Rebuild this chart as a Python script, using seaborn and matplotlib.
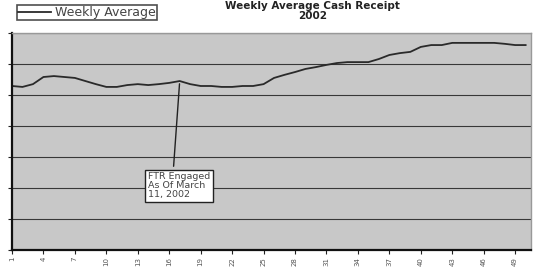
import numpy as np
import pandas as pd
import matplotlib
matplotlib.use('Agg')
import matplotlib.pyplot as plt
import seaborn as sns

# Weekly average cash receipts, 2002
weeks = list(range(1, 51))
receipts = [52900, 52600, 53500, 55800, 56100, 55800, 55500, 54500, 53500, 52600,
            52600, 53200, 53500, 53200, 53500, 53900, 54500, 53500, 52900, 52900,
            52600, 52600, 52900, 52900, 53500, 55500, 56500, 57400, 58400, 59000,
            59700, 60300, 60600, 60600, 60600, 61600, 62900, 63500, 63900, 65500,
            66100, 66100, 66800, 66800, 66800, 66800, 66800, 66500, 66100, 66100]
tick_weeks = list(range(1, 50, 3))
tick_labels = [str(w) for w in tick_weeks]
note_week = 17
note_text = 'FTR Engaged\nAs Of March\n11, 2002'

df = pd.DataFrame({'Week': weeks, 'Weekly Average': receipts})

fig = plt.figure(figsize=(5.33, 2.68), dpi=100)
ax = fig.add_axes([0.0225, 0.067, 0.9735, 0.81])

sns.lineplot(data=df, x='Week', y='Weekly Average', ax=ax, color='#2a2a2a',
             linewidth=1.3, label='Weekly Average')

ax.set_facecolor('#c8c8c8')
ax.set_xlim(1, 50.5)
ax.set_ylim(0, 70000)
ax.set_yticks(np.arange(0, 70001, 10000))
ax.set_yticklabels([])
ax.yaxis.grid(True, color='#383838', linewidth=0.8)
ax.set_axisbelow(True)
ax.set_xticks(tick_weeks)
ax.set_xticklabels(tick_labels, rotation=90, fontsize=5, color='#555555')
ax.tick_params(axis='both', length=3, width=0.8, color='#222222', pad=2)
ax.set_xlabel('')
ax.set_ylabel('')
for s in ['left', 'bottom']:
    ax.spines[s].set_color('#111111')
    ax.spines[s].set_linewidth(1.6)
for s in ['top', 'right']:
    ax.spines[s].set_color('#999999')
    ax.spines[s].set_linewidth(1.0)

# annotation box with a plain leader line
y_note = receipts[weeks.index(note_week)]
ax.annotate(note_text, xy=(note_week, y_note), xytext=(14.0, 20800),
            fontsize=6.8, color='#444444', ha='left', va='center',
            linespacing=0.95,
            bbox=dict(boxstyle='square,pad=0.3', fc='white', ec='#222222', lw=1),
            arrowprops=dict(arrowstyle='-', color='#222222', lw=1,
                            relpos=(0.4, 1.0)))

leg = ax.legend(loc='upper left', bbox_to_anchor=(0.01, 1.13), frameon=True,
                fancybox=False, fontsize=9, handlelength=2.6, handletextpad=0.3,
                borderpad=0.1, borderaxespad=0)
leg.get_frame().set_edgecolor('#222222')
leg.get_frame().set_linewidth(1.2)
for t in leg.get_texts():
    t.set_color('#444444')

fig.text(0.587, 0.995, 'Weekly Average Cash Receipt\n2002', ha='center', va='top',
         fontsize=7.5, fontweight='bold', color='#222222', linespacing=1.0)

fig.savefig('out.png', dpi=100)
